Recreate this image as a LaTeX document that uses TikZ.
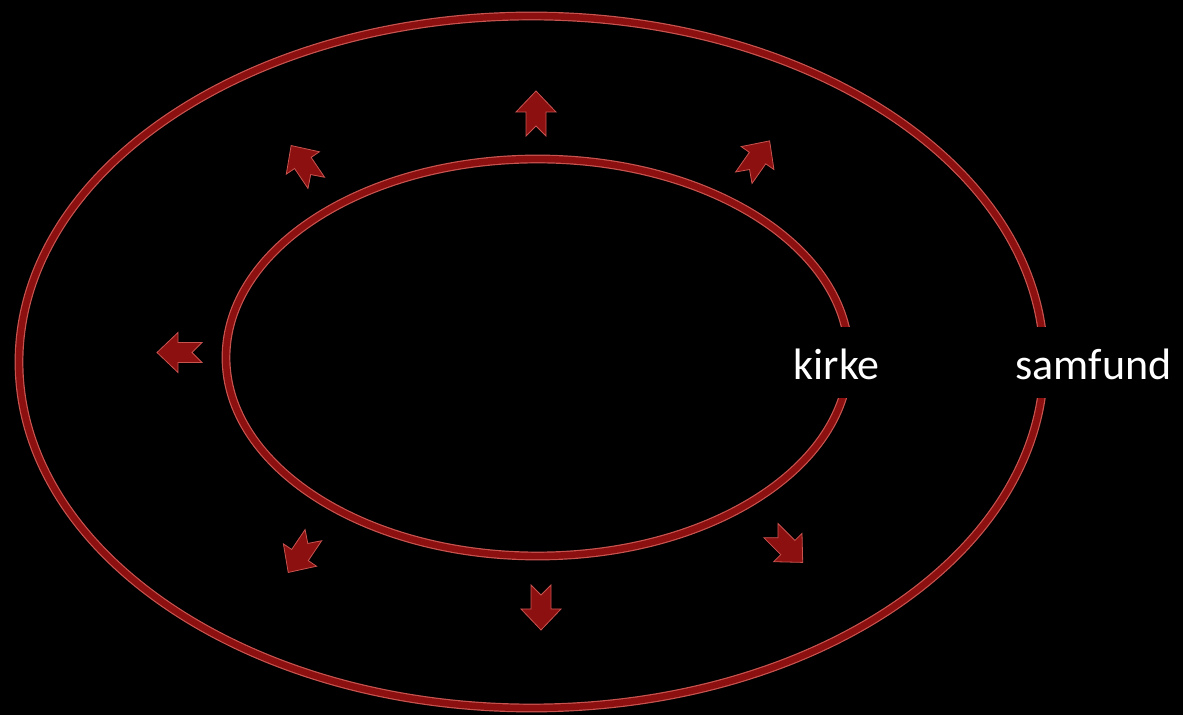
\documentclass[tikz,border=0pt]{standalone}
\usepackage{fontspec}
\setmainfont{Carlito}
\definecolor{ringred}{RGB}{140, 16, 16}
\definecolor{edgered}{RGB}{200, 84, 80}
\usetikzlibrary{positioning}

\tikzset{
  ring/.style={edgered, line width=4.4pt},
  ringcore/.style={ringred, line width=3.2pt},
  label/.style={fill=black, text=white, inner sep=0pt, anchor=base,
    text height=26.5pt, text depth=9pt, font=\fontsize{22}{26}\selectfont},
  notcharrow/.pic={
    \filldraw[ringred, draw=edgered, line width=0.4pt]
      (22.5,0) -- (1.5,20) -- (1.5,10) -- (-22.5,10) -- (-12.5,0)
      -- (-22.5,-10) -- (1.5,-10) -- (1.5,-20) -- cycle;
  }
}

\begin{document}
\begin{tikzpicture}[x=0.5pt, y=-0.5pt]
  \fill[black] (0,0) rectangle (1183,715);
  \useasboundingbox (0,0) rectangle (1183,715);

  % the two rings
  \draw[ring] (531.5,362) ellipse [x radius=512.5, y radius=346];
  \draw[ringcore] (531.5,362) ellipse [x radius=512.5, y radius=346];
  \draw[ring] (537.5,357.5) ellipse [x radius=311.5, y radius=198.5];
  \draw[ringcore] (537.5,357.5) ellipse [x radius=311.5, y radius=198.5];

  % arrows pointing outwards
  \pic[rotate=90] at (536,113.5) {notcharrow};
  \pic[rotate=55] at (756.7,159.3) {notcharrow};
  \pic[rotate=124] at (303.7,164.2) {notcharrow};
  \pic[rotate=180] at (179.5,352.5) {notcharrow};
  \pic[rotate=236] at (300.8,553.8) {notcharrow};
  \pic[rotate=270] at (541,607.5) {notcharrow};
  \pic[rotate=-45] at (786.8,546.5) {notcharrow};

  \node[label] (kirke) at (836.5,380) {kirke};
  \node[label] (samfund) at (1093.5,380) {samfund};
\end{tikzpicture}
\end{document}
